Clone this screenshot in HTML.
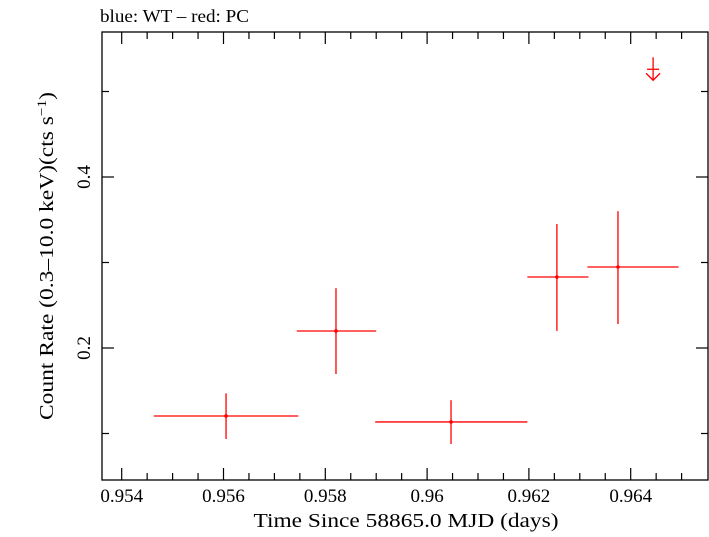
<!DOCTYPE html>
<html><head><meta charset="utf-8"><style>
body{margin:0;background:#fff}
svg text{font-family:"Liberation Serif",serif;fill:#000}
</style></head><body>
<svg id="chart" width="709" height="532" viewBox="0 0 709 532">
<text x="100" y="22" font-size="18" textLength="149" lengthAdjust="spacingAndGlyphs">blue: WT – red: PC</text>
<rect x="102" y="32" width="606" height="448" fill="none" stroke="#000" stroke-width="1.3"/>
<g id="ticks"></g>
<g id="marks"></g>
<text x="406" y="527" font-size="20" text-anchor="middle" textLength="305" lengthAdjust="spacingAndGlyphs">Time Since 58865.0 MJD (days)</text>
<text transform="translate(53,256) rotate(-90)" font-size="20" text-anchor="middle" textLength="328" lengthAdjust="spacingAndGlyphs">Count Rate (0.3–10.0 keV)(cts s<tspan baseline-shift="super" font-size="13">−1</tspan>)</text>
</svg>
<script>
const xCenters=[0.95605,0.95821,0.96047,0.96255,0.96375];
const xLo=[0.95463,0.95744,0.95898,0.96197,0.96315];
const xHi=[0.95747,0.95900,0.96197,0.96317,0.96494];
const yVals=[0.1205,0.2199,0.1135,0.283,0.2947];
const yLo=[0.0936,0.1696,0.0877,0.220,0.228];
const yHi=[0.147,0.270,0.139,0.345,0.360];
const ulX=[0.96444];
const ulY=[0.526];
const xTicks=[0.954,0.956,0.958,0.96,0.962,0.964];
const xTickLabels=["0.954","0.956","0.958","0.96","0.962","0.964"];
const yTicks=[0.2,0.4];
const yTickLabels=["0.2","0.4"];
const NS="http://www.w3.org/2000/svg";
function X(v){return 121.7+(v-0.954)*50900;}
function Y(v){return 519-v*855;}
function mk(tag,attrs,parent){const e=document.createElementNS(NS,tag);for(const k in attrs)e.setAttribute(k,attrs[k]);parent.appendChild(e);return e;}
const T=document.getElementById('ticks'),M=document.getElementById('marks');
for(let i=0;i<=23;i++){const v=0.9535+i*0.0005;const x=X(v);if(x<102||x>708)continue;
 const major=Math.abs(Math.round(v*500)-v*500)<1e-6;const len=major?12:7;
 let t=mk('line',{x1:x,x2:x,y1:480,y2:480-len,stroke:'#000','stroke-width':1.2},T);
 
 t=mk('line',{x1:x,x2:x,y1:32,y2:32+len,stroke:'#000','stroke-width':1.2},T);
 }
xTicks.forEach((v,i)=>{const t=mk('text',{x:X(v),y:502,'font-size':19,'text-anchor':'middle'},T);t.textContent=xTickLabels[i];
 });
for(let i=1;i<=5;i++){const v=i*0.1;const y=Y(v);const len=(i%2==0)?12:7;
 let t=mk('line',{x1:102,x2:102+len,y1:y,y2:y,stroke:'#000','stroke-width':1.2},T);
 
 t=mk('line',{x1:708,x2:708-len,y1:y,y2:y,stroke:'#000','stroke-width':1.2},T);
 }
yTicks.forEach((v,i)=>{const t=mk('text',{transform:`translate(90,${Y(v)}) rotate(-90)`,'font-size':19,'text-anchor':'middle'},T);t.textContent=yTickLabels[i];
 });
xCenters.forEach((xc,i)=>{const g=mk('g',{stroke:'#f00','stroke-width':1.3},M);
 
 mk('line',{x1:X(xLo[i]),x2:X(xHi[i]),y1:Y(yVals[i]),y2:Y(yVals[i])},g);
 mk('line',{x1:X(xc),x2:X(xc),y1:Y(yLo[i]),y2:Y(yHi[i])},g);
 mk('circle',{cx:X(xc),cy:Y(yVals[i]),r:1.8,fill:'#f00',stroke:'none'},g);});
ulX.forEach((xv,i)=>{const x=X(xv),y=Y(ulY[i]);const g=mk('g',{stroke:'#f00','stroke-width':1.3,fill:'none'},M);
 
 mk('line',{x1:x,x2:x,y1:y-12,y2:y+11},g);
 mk('line',{x1:x-6,x2:x+6,y1:y,y2:y},g);
 mk('polyline',{points:`${x-7},${y+4} ${x},${y+11} ${x+7},${y+4}`},g);});
</script>
</body></html>
